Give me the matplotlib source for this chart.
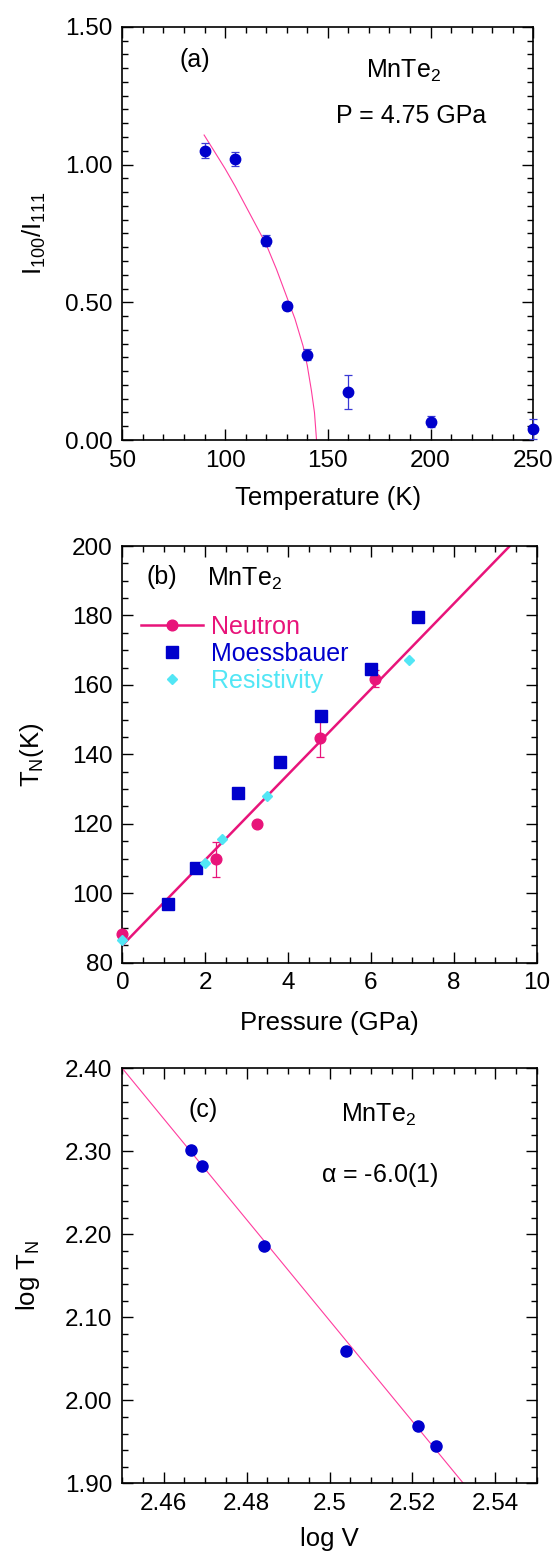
import matplotlib
matplotlib.use('Agg')
import matplotlib.pyplot as plt
from matplotlib.lines import Line2D
from matplotlib.ticker import MultipleLocator, FormatStrFormatter, FixedLocator, FixedFormatter

plt.rcParams['font.family'] = ['Liberation Sans', 'DejaVu Sans']
plt.rcParams['mathtext.fontset'] = 'custom'
plt.rcParams['mathtext.rm'] = 'Liberation Sans'
plt.rcParams['mathtext.it'] = 'Liberation Sans:italic'

# panel (a): intensity ratio vs temperature at 4.75 GPa
temp_a = [90, 105, 120, 130, 140, 160, 200, 250]
ratio_a = [1.050, 1.020, 0.724, 0.487, 0.309, 0.173, 0.067, 0.040]
ratio_err_a = [0.027, 0.027, 0.020, 0.015, 0.020, 0.062, 0.020, 0.035]
curve_t_a = [89.8, 95, 100, 105, 110, 115, 120, 125, 130, 134, 138, 140, 142, 143.5, 144.5]
curve_v_a = [1.107, 1.045, 0.985, 0.92, 0.85, 0.78, 0.71, 0.62, 0.52, 0.44, 0.34, 0.27, 0.18, 0.10, 0.0]

# panel (b): Neel temperature vs pressure
neut_p = [0.0, 2.27, 3.26, 4.76, 6.10]
neut_t = [88.2, 109.8, 119.9, 144.7, 161.8]
neut_err = [1.0, 5.0, 0.0, 5.5, 2.5]
moss_p = [1.11, 1.79, 2.78, 3.81, 4.80, 5.99, 7.14]
moss_t = [96.9, 107.4, 128.9, 137.8, 151.1, 164.5, 179.6]
res_p = [0.0, 2.00, 2.40, 3.50, 6.92]
res_t = [86.5, 108.6, 115.6, 128.1, 167.1]
fit_p = [0.0, 9.35]
fit_t = [85.0, 200.0]

# panel (c): log TN vs log V
logv_c = [2.4666, 2.4693, 2.4841, 2.5040, 2.5213, 2.5258]
logt_c = [2.3017, 2.2820, 2.1860, 2.0593, 1.9690, 1.9450]
fit_logv = [2.45, 2.5323]
fit_logt = [2.40, 1.90]
xticks_c = [2.46, 2.48, 2.50, 2.52, 2.54]
xticklabels_c = ['2.46', '2.48', '2.5', '2.52', '2.54']

blue = '#0000CC'
pink = '#E8147A'
cyan = '#52E6F5'
thin_pink = '#FF3C9E'

TICK_FS = 17.5
LABEL_FS = 18.5
TEXT_FS = 18

fig = plt.figure(figsize=(5.52, 15.56), dpi=100)
ax_a = fig.add_axes([0.2216, 0.7172, 0.7446, 0.2656])
ax_b = fig.add_axes([0.2216, 0.3813, 0.7507, 0.2678])
ax_c = fig.add_axes([0.2216, 0.0467, 0.7507, 0.2667])


def style(ax):
    for s in ax.spines.values():
        s.set_linewidth(1.2)
    ax.tick_params(which='both', direction='in', top=True, right=True, labelsize=TICK_FS, pad=7)
    ax.tick_params(which='major', length=8, width=1.0)
    ax.tick_params(which='minor', length=4.3, width=1.0)


# (a)
ax_a.plot(curve_t_a, curve_v_a, color=thin_pink, lw=0.8, zorder=2)
ax_a.errorbar(temp_a, ratio_a, yerr=ratio_err_a, fmt='o', color=blue, ms=7.5,
              ecolor='#3A3AD6', elinewidth=0.9, capsize=3, capthick=0.9,
              clip_on=False, zorder=3)
ax_a.set_xlim(50, 250)
ax_a.set_ylim(0, 1.5)
ax_a.xaxis.set_major_locator(MultipleLocator(50))
ax_a.xaxis.set_minor_locator(MultipleLocator(10))
ax_a.yaxis.set_major_locator(MultipleLocator(0.5))
ax_a.yaxis.set_minor_locator(MultipleLocator(0.05))
ax_a.yaxis.set_major_formatter(FormatStrFormatter('%.2f'))
style(ax_a)
ax_a.set_xlabel('Temperature (K)', fontsize=LABEL_FS)
ax_a.set_ylabel(r'$\mathregular{I_{100}/I_{111}}$', fontsize=LABEL_FS)
ax_a.xaxis.set_label_coords(0.5, -0.112)
ax_a.yaxis.set_label_coords(-0.182, 0.5)
ax_a.text(0.177, 0.919, '(a)', transform=ax_a.transAxes, fontsize=TEXT_FS, ha='center', va='center')
ax_a.text(0.593, 0.876, r'MnTe$\mathregular{_2}$', transform=ax_a.transAxes, fontsize=TEXT_FS,
          ha='left', va='baseline')
ax_a.text(0.520, 0.767, 'P = 4.75 GPa', transform=ax_a.transAxes, fontsize=TEXT_FS,
          ha='left', va='baseline')

# (b)
ax_b.plot(fit_p, fit_t, color=pink, lw=1.8, zorder=2)
ax_b.errorbar(neut_p, neut_t, yerr=neut_err, fmt='o', color=pink, ms=7.7,
              elinewidth=0.9, capsize=3, capthick=0.9, clip_on=False, zorder=3)
ax_b.plot(moss_p, moss_t, 's', color=blue, ms=8.6, clip_on=False, zorder=4)
ax_b.plot(res_p, res_t, 'D', color=cyan, ms=5.6, clip_on=False, zorder=5)
ax_b.set_xlim(0, 10)
ax_b.set_ylim(80, 200)
ax_b.xaxis.set_major_locator(MultipleLocator(2))
ax_b.xaxis.set_minor_locator(MultipleLocator(0.5))
ax_b.yaxis.set_major_locator(MultipleLocator(20))
ax_b.yaxis.set_minor_locator(MultipleLocator(5))
style(ax_b)
ax_b.set_xlabel('Pressure (GPa)', fontsize=LABEL_FS)
ax_b.set_ylabel(r'$\mathregular{T_N(K)}$', fontsize=LABEL_FS)
ax_b.xaxis.set_label_coords(0.5, -0.116)
ax_b.yaxis.set_label_coords(-0.185, 0.5)
ax_b.text(0.096, 0.926, '(b)', transform=ax_b.transAxes, fontsize=TEXT_FS, ha='center', va='center')
ax_b.text(0.205, 0.904, r'MnTe$\mathregular{_2}$', transform=ax_b.transAxes, fontsize=TEXT_FS,
          ha='left', va='baseline')
handles = [
    Line2D([], [], color=pink, lw=1.8, marker='o', ms=7.7),
    Line2D([], [], color=blue, lw=0, marker='s', ms=8.6),
    Line2D([], [], color=cyan, lw=0, marker='D', ms=5.6),
]
ax_b.legend(handles, ['Neutron', 'Moessbauer', 'Resistivity'], loc='upper left',
            bbox_to_anchor=(0.044, 0.835), borderaxespad=0, borderpad=0, frameon=False,
            fontsize=18, handlelength=2.5, handletextpad=0.3, labelspacing=0.12,
            labelcolor='markerfacecolor')

# (c)
ax_c.plot(fit_logv, fit_logt, color=thin_pink, lw=0.8, zorder=2)
ax_c.plot(logv_c, logt_c, 'o', color=blue, ms=8, zorder=3)
ax_c.set_xlim(2.45, 2.55)
ax_c.set_ylim(1.9, 2.4)
ax_c.xaxis.set_major_locator(FixedLocator(xticks_c))
ax_c.xaxis.set_major_formatter(FixedFormatter(xticklabels_c))
ax_c.xaxis.set_minor_locator(MultipleLocator(0.005))
ax_c.yaxis.set_major_locator(MultipleLocator(0.1))
ax_c.yaxis.set_minor_locator(MultipleLocator(0.02))
ax_c.yaxis.set_major_formatter(FormatStrFormatter('%.2f'))
style(ax_c)
ax_c.set_xlabel('log V', fontsize=LABEL_FS)
ax_c.set_ylabel(r'$\mathregular{log\ T_N}$', fontsize=LABEL_FS)
ax_c.xaxis.set_label_coords(0.5, -0.106)
ax_c.yaxis.set_label_coords(-0.195, 0.5)
ax_c.text(0.195, 0.900, '(c)', transform=ax_c.transAxes, fontsize=TEXT_FS, ha='center', va='center')
ax_c.text(0.528, 0.871, r'MnTe$\mathregular{_2}$', transform=ax_c.transAxes, fontsize=TEXT_FS,
          ha='left', va='baseline')
ax_c.text(0.479, 0.727, r'$\mathregular{\alpha}$ = -6.0(1)', transform=ax_c.transAxes,
          fontsize=TEXT_FS, ha='left', va='baseline')

fig.savefig('out.png', dpi=100)
